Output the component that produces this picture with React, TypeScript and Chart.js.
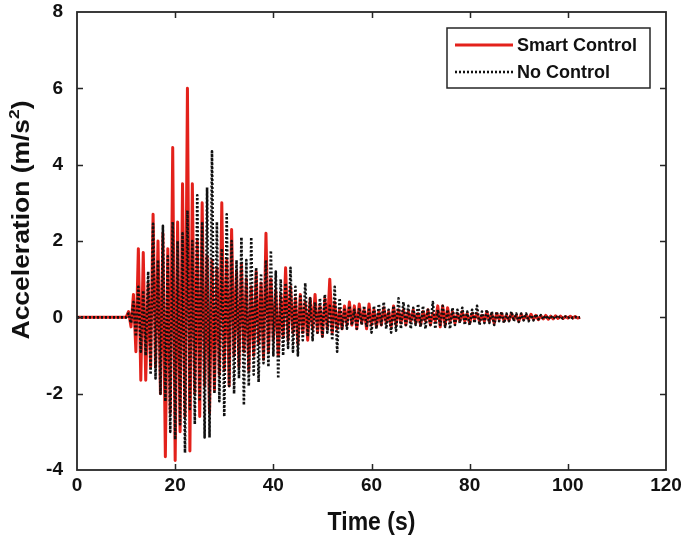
import React, { useEffect, useRef } from "react";
import { Chart, registerables } from "chart.js";

Chart.register(...registerables);

// Time (s)
const TIME: number[] = [
  0, 10,
  10.5, 11, 11.5, 12, 12.5, 13, 13.5, 14, 14.5, 15,
  15.5, 16, 16.5, 17, 17.5, 18, 18.5, 19, 19.5, 20,
  20.5, 21, 21.5, 22, 22.5, 23, 23.5, 24, 24.5, 25,
  25.5, 26, 26.5, 27, 27.5, 28, 28.5, 29, 29.5, 30,
  30.5, 31, 31.5, 32, 32.5, 33, 33.5, 34, 34.5, 35,
  35.5, 36, 36.5, 37, 37.5, 38, 38.5, 39, 39.5, 40,
  40.5, 41, 41.5, 42, 42.5, 43, 43.5, 44, 44.5, 45,
  45.5, 46, 46.5, 47, 47.5, 48, 48.5, 49, 49.5, 50,
  50.5, 51, 51.5, 52, 52.5, 53, 53.5, 54, 54.5, 55,
  55.5, 56, 56.5, 57, 57.5, 58, 58.5, 59, 59.5, 60,
  60.5, 61, 61.5, 62, 62.5, 63, 63.5, 64, 64.5, 65,
  65.5, 66, 66.5, 67, 67.5, 68, 68.5, 69, 69.5, 70,
  70.5, 71, 71.5, 72, 72.5, 73, 73.5, 74, 74.5, 75,
  75.5, 76, 76.5, 77, 77.5, 78, 78.5, 79, 79.5, 80,
  80.5, 81, 81.5, 82, 82.5, 83, 83.5, 84, 84.5, 85,
  85.5, 86, 86.5, 87, 87.5, 88, 88.5, 89, 89.5, 90,
  90.5, 91, 91.5, 92, 92.5, 93, 93.5, 94, 94.5, 95,
  95.5, 96, 96.5, 97, 97.5, 98, 98.5, 99, 99.5, 100,
  100.5, 101, 101.5, 102, 102.5,
];

// Acceleration (m/s^2) – Smart Control
const SMART_CONTROL: number[] = [
  0, 0,
  0.15, -0.25, 0.6, -0.9, 1.8, -1.65, 1.7, -1.65, 0.9, -1.3,
  2.7, -1.3, 2.0, -2.0, 2.2, -3.65, 1.8, -2.5, 4.45, -3.75,
  2.5, -3.0, 3.5, -2.6, 6.0, -3.5, 3.5, -2.0, 2.0, -2.6,
  3.0, -1.8, 1.6, -2.5, 1.5, -1.9, 1.3, -1.5, 3.0, -1.4,
  1.5, -1.8, 2.3, -1.0, 1.2, -1.3, 1.4, -0.9, 1.0, -1.4,
  0.8, -1.0, 1.2, -0.7, 0.9, -1.1, 2.2, -0.9, 1.0, -0.6,
  0.7, -1.0, 0.6, -0.5, 1.3, -0.6, 0.8, -0.4, 0.5, -0.7,
  0.6, -0.4, 0.4, -0.6, 0.5, -0.3, 0.6, -0.4, 0.3, -0.5,
  0.5, -0.3, 1.0, -0.4, 0.4, -0.3, 0.2, -0.3, 0.3, -0.2,
  0.4, -0.2, 0.3, -0.3, 0.35, -0.15, 0.2, -0.3, 0.35, -0.2,
  0.2, -0.25, 0.15, -0.2, 0.25, -0.15, 0.15, -0.25, 0.3, -0.2,
  0.2, -0.15, 0.2, -0.2, 0.15, -0.1, 0.2, -0.15, 0.1, -0.2,
  0.15, -0.1, 0.2, -0.2, 0.1, -0.1, 0.3, -0.25, 0.3, -0.2,
  0.25, -0.1, 0.15, -0.15, 0.1, -0.1, 0.15, -0.1, 0.1, -0.15,
  0.1, -0.05, 0.1, -0.1, 0.05, -0.1, 0.15, -0.1, 0.1, -0.15,
  0.1, -0.05, 0.1, -0.1, 0.05, -0.08, 0.1, -0.05, 0.05, -0.1,
  0.08, -0.05, 0.05, -0.05, 0.08, -0.05, 0.05, -0.06, 0.04, -0.04,
  0.05, -0.05, 0.03, -0.04, 0.04, -0.03, 0.03, -0.03, 0.02, -0.02,
  0.03, -0.02, 0.02, -0.02, 0,
];

// Acceleration (m/s^2) – No Control
const NO_CONTROL: number[] = [
  0, 0,
  0.1, -0.15, 0.4, -0.5, 0.8, -0.9, 0.7, -1.0, 1.2, -1.5,
  2.45, -1.6, 1.5, -2.0, 2.4, -2.2, 1.6, -3.0, 2.5, -3.2,
  2.0, -2.8, 2.2, -3.55, 2.8, -2.4, 2.0, -2.8, 3.2, -2.2,
  2.5, -3.15, 3.4, -3.15, 4.35, -2.0, 2.5, -2.2, 1.8, -2.6,
  2.7, -1.8, 2.0, -2.0, 1.5, -1.6, 2.1, -2.3, 1.5, -1.8,
  2.1, -1.5, 1.3, -1.7, 1.15, -1.2, 1.5, -1.3, 1.75, -1.0,
  1.2, -1.6, 1.0, -1.0, 0.9, -0.8, 1.3, -0.9, 0.8, -1.0,
  0.6, -0.6, 0.9, -0.5, 0.5, -0.6, 0.4, -0.4, 0.5, -0.5,
  0.6, -0.4, 0.3, -0.6, 0.8, -0.9, 0.5, -0.3, 0.2, -0.3,
  0.3, -0.2, 0.2, -0.3, 0.25, -0.2, 0.3, -0.25, 0.2, -0.4,
  0.3, -0.3, 0.35, -0.2, 0.4, -0.3, 0.2, -0.4, 0.3, -0.35,
  0.5, -0.3, 0.4, -0.2, 0.3, -0.3, 0.25, -0.2, 0.35, -0.25,
  0.3, -0.3, 0.2, -0.2, 0.4, -0.3, 0.2, -0.2, 0.3, -0.25,
  0.2, -0.3, 0.25, -0.2, 0.2, -0.15, 0.25, -0.2, 0.15, -0.2,
  0.2, -0.15, 0.3, -0.2, 0.15, -0.15, 0.2, -0.15, 0.15, -0.2,
  0.15, -0.1, 0.15, -0.15, 0.1, -0.1, 0.15, -0.1, 0.1, -0.12,
  0.1, -0.08, 0.1, -0.1, 0.06, -0.08, 0.08, -0.05, 0.06, -0.05,
  0.05, -0.05, 0.04, -0.04, 0.04, -0.03, 0.03, -0.03, 0.02, -0.02,
  0.02, -0.02, 0.01, -0.01, 0,
];

const X_MIN = 0;
const X_MAX = 120;
const X_STEP = 20;
const Y_MIN = -4;
const Y_MAX = 8;
const Y_STEP = 2;

const SERIES_LABELS = ["Smart Control", "No Control"];
const X_TITLE = "Time (s)";
const Y_TITLE_MAIN = "Acceleration (m/s";
const Y_TITLE_SUP = "2";
const Y_TITLE_END = ")";

const FONT = '"Liberation Sans", Arial, Helvetica, sans-serif';
const RED = "#e3211b";
const BLACK = "#111111";

const decorPlugin = {
  id: "decor",
  afterDraw(chart: any) {
    const { ctx, chartArea, scales } = chart;
    const { left, right, top, bottom } = chartArea;
    ctx.save();
    // frame
    ctx.strokeStyle = "#262626";
    ctx.lineWidth = 1.8;
    ctx.strokeRect(left, top, right - left, bottom - top);
    // inward ticks
    const tl = 6;
    ctx.beginPath();
    scales.x.ticks.forEach((t: any) => {
      if (t.value <= X_MIN || t.value >= X_MAX) return;
      const px = Math.round(scales.x.getPixelForValue(t.value)) + 0.5;
      ctx.moveTo(px, bottom);
      ctx.lineTo(px, bottom - tl);
      ctx.moveTo(px, top);
      ctx.lineTo(px, top + tl);
    });
    scales.y.ticks.forEach((t: any) => {
      if (t.value <= Y_MIN || t.value >= Y_MAX) return;
      const py = Math.round(scales.y.getPixelForValue(t.value)) + 0.5;
      ctx.moveTo(left, py);
      ctx.lineTo(left + tl, py);
      ctx.moveTo(right, py);
      ctx.lineTo(right - tl, py);
    });
    ctx.lineWidth = 1.5;
    ctx.stroke();

    // legend
    const lw = 203;
    const lh = 60;
    const lx = right - 16 - lw;
    const ly = top + 16;
    ctx.fillStyle = "#ffffff";
    ctx.fillRect(lx, ly, lw, lh);
    ctx.strokeStyle = "#262626";
    ctx.lineWidth = 1.5;
    ctx.strokeRect(lx, ly, lw, lh);
    const ds = chart.data.datasets;
    const rows = [ly + 17, ly + 44];
    ds.forEach((d: any, i: number) => {
      const yy = rows[i];
      ctx.beginPath();
      ctx.strokeStyle = d.borderColor;
      ctx.lineWidth = d.borderWidth;
      ctx.setLineDash(d.borderDash || []);
      ctx.moveTo(lx + 8, yy);
      ctx.lineTo(lx + 66, yy);
      ctx.stroke();
      ctx.setLineDash([]);
      ctx.fillStyle = "#111";
      ctx.font = `bold 18px ${FONT}`;
      ctx.textAlign = "left";
      ctx.textBaseline = "middle";
      ctx.fillText(d.label, lx + 70, yy + 1);
    });

    // axis titles
    ctx.fillStyle = "#111";
    ctx.textBaseline = "middle";
    ctx.font = `bold 23px ${FONT}`;
    ctx.save();
    ctx.textAlign = "center";
    ctx.translate((left + right) / 2, 523);
    ctx.scale(1, 1.12);
    ctx.fillText(X_TITLE, 0, 0);
    ctx.restore();

    ctx.save();
    ctx.translate(23, 220);
    ctx.rotate(-Math.PI / 2);
    ctx.scale(1.15, 1);
    const mainFont = `bold 23px ${FONT}`;
    const supFont = `bold 15px ${FONT}`;
    ctx.font = mainFont;
    const w1 = ctx.measureText(Y_TITLE_MAIN).width;
    const w3 = ctx.measureText(Y_TITLE_END).width;
    ctx.font = supFont;
    const w2 = ctx.measureText(Y_TITLE_SUP).width;
    const total = w1 + w2 + w3;
    let x0 = -total / 2;
    ctx.textAlign = "left";
    ctx.font = mainFont;
    ctx.fillText(Y_TITLE_MAIN, x0, 0);
    ctx.font = supFont;
    ctx.fillText(Y_TITLE_SUP, x0 + w1, -8);
    ctx.font = mainFont;
    ctx.fillText(Y_TITLE_END, x0 + w1 + w2, 0);
    ctx.restore();

    ctx.restore();
  },
};

export default function App() {
  const canvasRef = useRef<HTMLCanvasElement | null>(null);

  useEffect(() => {
    if (!canvasRef.current) return;
    const smart = TIME.map((t, i) => ({ x: t, y: SMART_CONTROL[i] }));
    const none = TIME.map((t, i) => ({ x: t, y: NO_CONTROL[i] }));
    const chart = new Chart(canvasRef.current, {
      type: "line",
      data: {
        datasets: [
          {
            label: SERIES_LABELS[0],
            data: smart,
            borderColor: RED,
            backgroundColor: RED,
            borderWidth: 3,
            pointRadius: 0,
            tension: 0,
            borderJoinStyle: "round",
            order: 1,
          },
          {
            label: SERIES_LABELS[1],
            data: none,
            borderColor: BLACK,
            backgroundColor: BLACK,
            borderWidth: 2.6,
            borderDash: [2, 2],
            pointRadius: 0,
            tension: 0,
            borderJoinStyle: "round",
            order: 0,
          },
        ],
      },
      options: {
        responsive: false,
        animation: false,
        layout: { padding: { left: 0, right: 19, top: 12, bottom: 0 } },
        plugins: {
          legend: { display: false },
          tooltip: { enabled: false },
        },
        scales: {
          x: {
            type: "linear",
            min: X_MIN,
            max: X_MAX,
            border: { display: false },
            grid: { display: false, drawTicks: false },
            ticks: {
              stepSize: X_STEP,
              padding: 4,
              color: "#111",
              font: { family: FONT, size: 19, weight: "bold" },
              maxRotation: 0,
            },
            afterFit: (s: any) => {
              s.height = 73;
              s.paddingLeft = 0;
              s.paddingRight = 0;
            },
          },
          y: {
            type: "linear",
            min: Y_MIN,
            max: Y_MAX,
            border: { display: false },
            grid: { display: false, drawTicks: false },
            ticks: {
              stepSize: Y_STEP,
              padding: 14,
              color: "#111",
              font: { family: FONT, size: 19, weight: "bold" },
            },
            afterFit: (s: any) => {
              s.width = 77;
              s.paddingTop = 0;
              s.paddingBottom = 0;
            },
          },
        },
      },
      plugins: [decorPlugin],
    } as any);
    return () => chart.destroy();
  }, []);

  return (
    <div style={{ position: "absolute", left: 0, top: 0, width: 685, height: 543, background: "#fff" }}>
      <canvas ref={canvasRef} width={685} height={543} style={{ display: "block" }} />
    </div>
  );
}
